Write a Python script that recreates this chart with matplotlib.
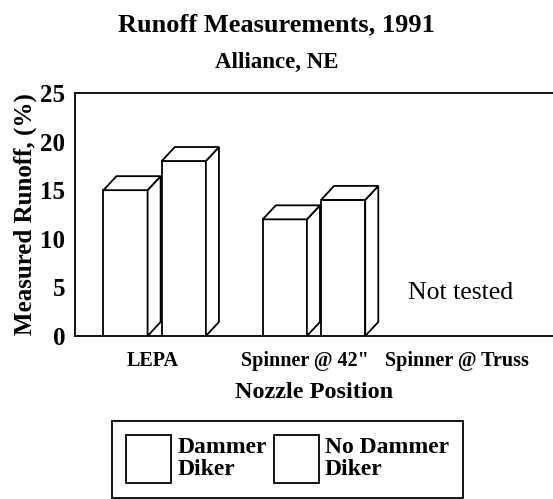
import numpy as np
import matplotlib
matplotlib.use("Agg")
import matplotlib.pyplot as plt
from matplotlib.patches import Polygon, Patch

plt.rcParams['font.family'] = ['Liberation Serif', 'DejaVu Serif']

categories = ['LEPA', 'Spinner @ 42"', 'Spinner @ Truss']
dammer = [15, 12]        # LEPA, Spinner @ 42"
no_dammer = [18, 14]
series_names = ['Dammer\nDiker', 'No Dammer\nDiker']

fig = plt.figure(figsize=(5.53, 4.99), dpi=100)
ax = fig.add_axes([0.1356, 0.3267, 0.8644, 0.487])

w = 0.277
off = 0.183
dx, dy = 0.082, 1.44


def bar3d(xc, h):
    x0 = xc - w / 2
    x1 = xc + w / 2
    ax.bar(xc, h, width=w, color='white', edgecolor='black', linewidth=1.3, zorder=3)
    side = [(x1, 0), (x1 + dx, dy), (x1 + dx, h + dy), (x1, h)]
    top = [(x0, h), (x0 + dx, h + dy), (x1 + dx, h + dy), (x1, h)]
    for pts in (side, top):
        ax.add_patch(Polygon(pts, closed=True, facecolor='white', edgecolor='black',
                             linewidth=1.3, zorder=3))


for i in range(len(dammer)):
    bar3d(i - off, dammer[i])
    bar3d(i + off, no_dammer[i])

ax.text(1.92, 4.4, 'Not tested', ha='center', va='center', fontsize=18.5)

ax.set_xlim(-0.5, 2.5)
ax.set_ylim(0, 25)
ax.set_yticks([0, 5, 10, 15, 20, 25])
# label positions as placed in the original figure
ax.set_xticks([-0.01, 0.94, 1.9])
ax.set_xticklabels(categories, fontsize=14.5, fontweight='bold')
for lab in ax.get_yticklabels():
    lab.set_fontsize(18)
    lab.set_fontweight('bold')
ax.tick_params(axis='y', length=0, pad=7)
ax.tick_params(axis='x', length=0, pad=11)
ax.spines['right'].set_visible(False)
for s in ['left', 'top', 'bottom']:
    ax.spines[s].set_linewidth(1.3)

ax.set_xlabel('Nozzle Position', fontsize=17.5, fontweight='bold', labelpad=8)
ax.set_ylabel('Measured Runoff, (%)', fontsize=18, fontweight='bold', labelpad=2)

fig.text(0.5, 0.95, 'Runoff Measurements, 1991', ha='center', va='center',
         fontsize=19, fontweight='bold')
fig.text(0.5, 0.875, 'Alliance, NE', ha='center', va='center',
         fontsize=16.5, fontweight='bold')

handles = [Patch(facecolor='white', edgecolor='black', linewidth=1.3) for _ in series_names]
leg = fig.legend(handles, series_names, ncol=2, loc='center',
                 bbox_to_anchor=(0.52, 0.08), fancybox=False, edgecolor='black',
                 prop={'weight': 'bold', 'size': 17}, handlelength=1.9, handleheight=2.8,
                 handletextpad=0.25, columnspacing=0.3, borderpad=0.6, framealpha=1)
leg.get_frame().set_linewidth(1.3)
for t in leg.get_texts():
    t.set_linespacing(1.05)

fig.savefig('out.png', dpi=100)
